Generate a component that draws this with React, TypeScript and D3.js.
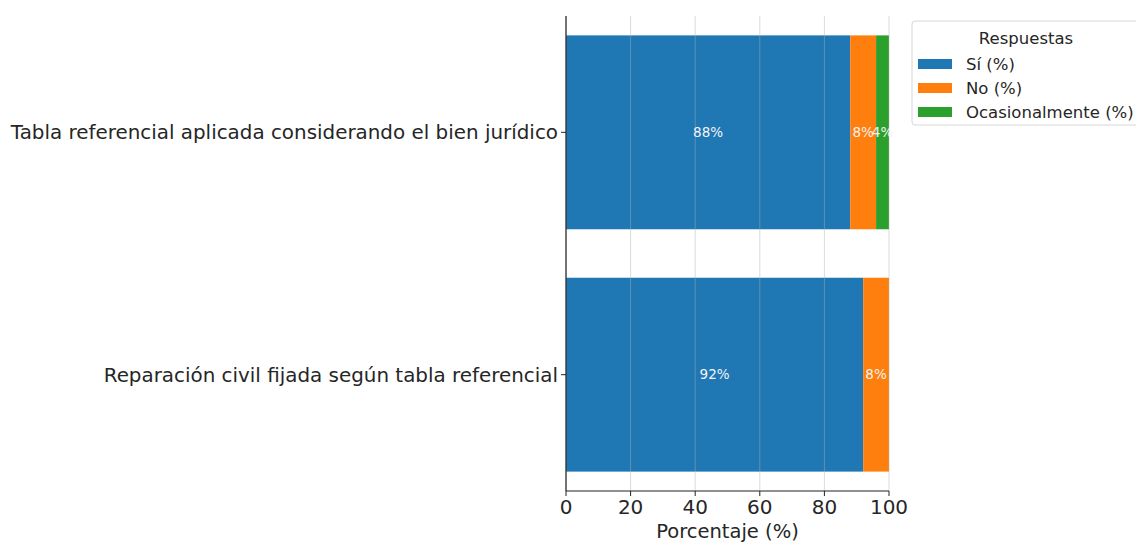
import React from 'react';
import * as d3 from 'd3';

const categories: string[] = [
  'Tabla referencial aplicada considerando el bien jurídico',
  'Reparación civil fijada según tabla referencial',
];
const seriesNames: string[] = ['Sí (%)', 'No (%)', 'Ocasionalmente (%)'];
const siValues: number[] = [88, 92];
const noValues: number[] = [8, 8];
const ocasionalValues: number[] = [4, 0];
const xTicks: number[] = [0, 20, 40, 60, 80, 100];

const colors: string[] = ['#1f77b4', '#ff7f0e', '#2ca02c'];
const textColor = '#262626';
const font = 'DejaVu Sans, sans-serif';

const App: React.FC = () => {
  const width = 1136;
  const height = 543;
  const margin = { top: 16, right: 247, bottom: 52, left: 566 };
  const innerW = width - margin.left - margin.right;
  const innerH = height - margin.top - margin.bottom;

  const rows = categories.map((c, i) => ({
    cat: c,
    s0: siValues[i],
    s1: noValues[i],
    s2: ocasionalValues[i],
  }));
  const keys = ['s0', 's1', 's2'];
  const stacked = d3.stack<any>().keys(keys)(rows);

  const x = d3.scaleLinear().domain([0, 100]).range([0, innerW]);
  const y = d3
    .scaleBand<string>()
    .domain(categories)
    .range([0, innerH])
    .paddingInner(0.2)
    .paddingOuter(0.08);

  const legendX = 912;
  const legendY = 21;

  return (
    <svg
      width={width}
      height={height}
      style={{ position: 'absolute', left: 0, top: 0, background: '#fff' }}
      fontFamily={font}
    >
      <g transform={`translate(${margin.left},${margin.top})`}>
        {/* Bars */}
        {stacked.map((layer, li) => (
          <g key={li} fill={colors[li]}>
            {layer.map((d, i) =>
              d[1] - d[0] > 0 ? (
                <rect
                  key={i}
                  x={x(d[0])}
                  y={y(d.data.cat)}
                  width={x(d[1]) - x(d[0])}
                  height={y.bandwidth()}
                />
              ) : null
            )}
          </g>
        ))}

        {/* Grid */}
        {xTicks.map((t) => (
          <line
            key={t}
            x1={x(t)}
            x2={x(t)}
            y1={0}
            y2={innerH}
            stroke="#b0b0b0"
            strokeOpacity={0.45}
            strokeWidth={1}
          />
        ))}

        {/* Bar labels */}
        {stacked.map((layer, li) =>
          layer.map((d, i) =>
            d[1] - d[0] > 0 ? (
              <text
                key={`${li}-${i}`}
                x={x((d[0] + d[1]) / 2)}
                y={(y(d.data.cat) || 0) + y.bandwidth() / 2}
                dy="0.35em"
                textAnchor="middle"
                fontSize={13.5}
                fill="#f4f4f4"
              >
                {`${d[1] - d[0]}%`}
              </text>
            ) : null
          )
        )}

        {/* Spines */}
        <line x1={0} x2={0} y1={0} y2={innerH} stroke="#222" strokeWidth={1.2} />
        <line x1={0} x2={innerW} y1={innerH} y2={innerH} stroke="#222" strokeWidth={1.2} />

        {/* X axis ticks */}
        {xTicks.map((t) => (
          <g key={t} transform={`translate(${x(t)},${innerH})`}>
            <line y1={0} y2={5} stroke="#222" strokeWidth={1} />
            <text y={23} textAnchor="middle" fontSize={20} fill={textColor}>
              {t}
            </text>
          </g>
        ))}
        <text
          x={innerW / 2}
          y={innerH + 47}
          textAnchor="middle"
          fontSize={19.5}
          fill={textColor}
        >
          Porcentaje (%)
        </text>

        {/* Y axis ticks */}
        {categories.map((c) => (
          <g key={c} transform={`translate(0,${(y(c) || 0) + y.bandwidth() / 2})`}>
            <line x1={0} x2={-5} stroke="#222" strokeWidth={1} />
            <text x={-8} dy="0.35em" textAnchor="end" fontSize={19.9} fill={textColor}>
              {c}
            </text>
          </g>
        ))}
      </g>

      {/* Legend */}
      <g transform={`translate(${legendX},${legendY})`}>
        <rect
          x={0}
          y={0}
          width={236}
          height={104}
          rx={3}
          fill="#fff"
          fillOpacity={0.8}
          stroke="#d6d6d6"
        />
        <text x={114} y={17} dy="0.35em" textAnchor="middle" fontSize={16.5} fill={textColor}>
          Respuestas
        </text>
        {seriesNames.map((n, i) => (
          <g key={n} transform={`translate(6,${43 + i * 24})`}>
            <rect x={0} y={-5} width={34} height={10} fill={colors[i]} />
            <text x={48} dy="0.35em" fontSize={16.5} fill={textColor}>
              {n}
            </text>
          </g>
        ))}
      </g>
    </svg>
  );
};

export default App;
